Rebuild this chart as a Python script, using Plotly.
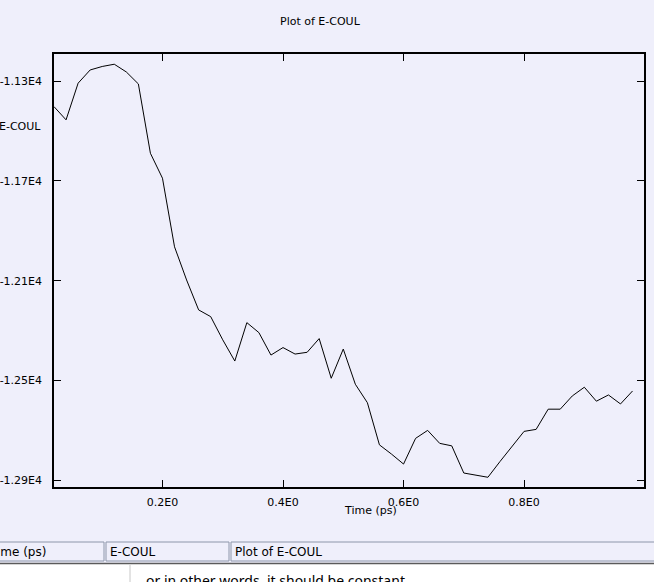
import plotly.graph_objects as go

time_ps = [0.02, 0.04, 0.06, 0.08, 0.10, 0.12, 0.14, 0.16, 0.18, 0.20,
           0.22, 0.24, 0.26, 0.28, 0.30, 0.32, 0.34, 0.36, 0.38, 0.40,
           0.42, 0.44, 0.46, 0.48, 0.50, 0.52, 0.54, 0.56, 0.58, 0.60,
           0.62, 0.64, 0.66, 0.68, 0.70, 0.72, 0.74, 0.76, 0.78, 0.80,
           0.82, 0.84, 0.86, 0.88, 0.90, 0.92, 0.94, 0.96, 0.98]
e_coul = [-11402, -11455, -11308, -11255, -11241, -11232, -11263, -11311, -11589, -11689,
          -11964, -12097, -12217, -12244, -12337, -12422, -12268, -12308, -12398, -12368,
          -12394, -12387, -12332, -12491, -12374, -12515, -12589, -12758, -12795, -12835,
          -12732, -12700, -12752, -12762, -12871, -12879, -12888, -12825, -12766, -12704,
          -12696, -12615, -12615, -12562, -12527, -12583, -12558, -12594, -12542]

x_tickvals = [0.2, 0.4, 0.6, 0.8]
x_ticktext = ["0.2E0", "0.4E0", "0.6E0", "0.8E0"]
y_tickvals = [-11300, -11700, -12100, -12500, -12900]
y_ticktext = ["-1.13E4", "-1.17E4", "-1.21E4", "-1.25E4", "-1.29E4"]
status_labels = ["Time (ps)", "E-COUL", "Plot of E-COUL"]

W, H = 654, 582
L, R, T, B = 54, 644, 54, 487
BG = "#efeffb"
FONT = "DejaVu Sans"


def px(x):
    return (x - L) / (R - L)


def py(y):
    return (B - y) / (B - T)


fig = go.Figure()
fig.add_trace(go.Scatter(x=time_ps, y=e_coul, mode="lines",
                         line=dict(color="black", width=1), hoverinfo="skip",
                         showlegend=False))

axis_common = dict(showgrid=False, zeroline=False, showline=True, linecolor="black",
                   linewidth=1.5, mirror="ticks", ticks="inside", ticklen=7,
                   tickcolor="black", tickwidth=1.2, automargin=False,
                   tickfont=dict(family=FONT, size=11, color="black"))

fig.update_layout(
    width=W, height=H,
    margin=dict(l=L, r=W - R, t=T, b=H - B, pad=0),
    paper_bgcolor=BG, plot_bgcolor=BG,
    xaxis=dict(range=[0.02, 0.999], tickvals=x_tickvals, ticktext=x_ticktext,
               ticklabelstandoff=4, **axis_common),
    yaxis=dict(range=[-12927, -11191], tickvals=y_tickvals, ticktext=y_ticktext,
               ticklabelstandoff=8, **axis_common),
    font=dict(family=FONT, size=11, color="black"),
)

annotations = [
    dict(text="Plot of E-COUL", x=px(320), y=py(22), xanchor="center", yanchor="middle",
         font=dict(size=11)),
    dict(text="E-COUL", x=px(-3), y=py(127), xanchor="left", yanchor="middle",
         font=dict(size=11)),
    dict(text="Time (ps)", x=px(370), y=py(510), xanchor="center", yanchor="middle",
         font=dict(size=11)),
]

shapes = []
# status bar region
boxes = [(-20, 104), (106, 229), (231, 680)]
for (x0, x1) in boxes:
    shapes.append(dict(type="rect", xref="paper", yref="paper",
                       x0=px(x0), x1=px(x1), y0=py(561), y1=py(542),
                       line=dict(color="#8d96aa", width=1), fillcolor=BG, layer="above"))
status_x = [-13, 108, 233]
for lab, sx in zip(status_labels, status_x):
    annotations.append(dict(text=lab, x=px(sx), y=py(551.5), xanchor="left", yanchor="middle",
                            font=dict(size=12)))
# lower white document area
shapes.append(dict(type="rect", xref="paper", yref="paper",
                   x0=px(-5), x1=px(700), y0=py(600), y1=py(563.5),
                   line=dict(width=0), fillcolor="white", layer="above"))
shapes.append(dict(type="line", xref="paper", yref="paper",
                   x0=px(-5), x1=px(700), y0=py(563.5), y1=py(563.5),
                   line=dict(color="#5a5a5a", width=1.5), layer="above"))
shapes.append(dict(type="line", xref="paper", yref="paper",
                   x0=px(130), x1=px(130), y0=py(600), y1=py(565),
                   line=dict(color="#c8c8c8", width=1), layer="above"))
annotations.append(dict(text="or in other words, it should be constant", x=px(144), y=py(569),
                        xanchor="left", yanchor="top", font=dict(size=14, family="Noto Sans")))

for a in annotations:
    a.setdefault("xref", "paper")
    a.setdefault("yref", "paper")
    a.setdefault("showarrow", False)
fig.update_layout(annotations=annotations, shapes=shapes)

fig.write_html("out.html", config={"displayModeBar": False},
               post_script="document.body.style.margin='0';document.body.style.overflow='hidden';")
